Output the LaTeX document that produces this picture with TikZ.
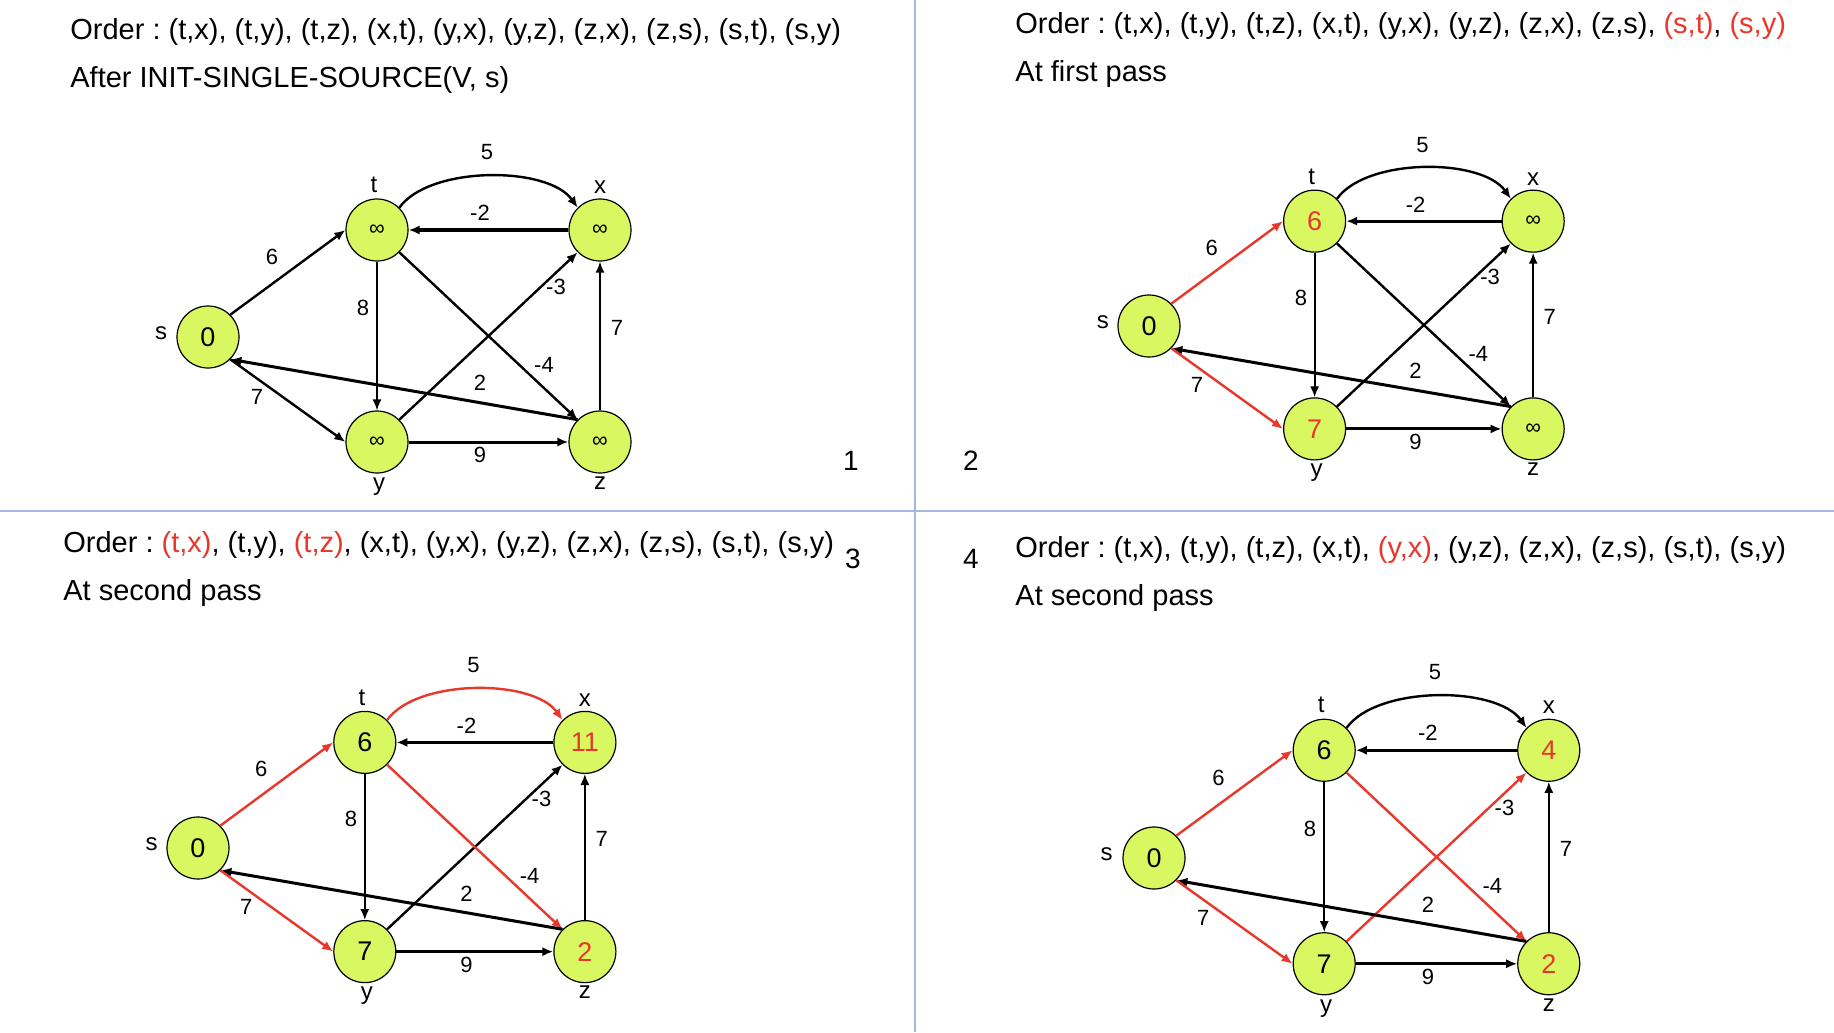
\documentclass[tikz,border=0pt]{standalone}
\usepackage{fontspec}
\setmainfont{Liberation Sans}
\usetikzlibrary{arrows.meta}
\frenchspacing
\definecolor{myred}{HTML}{E8382C}
\definecolor{nodefill}{HTML}{D8F760}
\definecolor{divider}{HTML}{A4B6E2}
\newcommand\valfont{\fontsize{13.5}{16}\selectfont}
\newcommand\inff{\fontsize{11}{12}\selectfont ∞}
\newcommand\rv[1]{\textcolor{myred}{#1}}
\newcommand\bfgraph[4]{%
  \node[vtx] (s) at (0,0) {0};
  \node[vtx] (t) at (169,-107) {#1};
  \node[vtx] (x) at (392,-107) {#2};
  \node[vtx] (y) at (169,105) {#3};
  \node[vtx] (z) at (392,105) {#4};
  \node[nm] (sname) at (-47,-4) {s};
  \node[nm] (tname) at (166,-152) {t};
  \node[nm] (xname) at (392,-150) {x};
  \node[nm] (yname) at (171,150) {y};
  \node[nm] (zname) at (392,146) {z};
  \draw[edge,eTX] (t.45) .. controls +(30,-42) and +(-30,-42) .. (x.135);
  \draw[edge,thick edge] (x.west) -- (t.east);
  \draw[edge,eST] (s.45) -- (t.west);
  \draw[edge,thin edge] (t.south) -- (y.north);
  \draw[edge,eYX] (y.45) -- (x.225);
  \draw[edge,thin edge] (z.north) -- (x.south);
  \draw[edge,eTZ] (t.-45) -- (z.135);
  \draw[edge,thick edge] (z.135) -- (s.-45);
  \draw[edge,eSY] (s.-45) -- (y.west);
  \draw[edge,thick edge] (y.east) -- (z.west);
  \node[el] (l5) at (279,-185) {5};
  \node[el] (lm2) at (272,-124) {-2};
  \node[el] (l6) at (64,-80) {6};
  \node[el] (l8) at (155,-29) {8};
  \node[el] (lm3) at (348,-50) {-3};
  \node[el] (l7r) at (409,-9) {7};
  \node[el] (lm4) at (336,28) {-4};
  \node[el] (l2) at (272,46) {2};
  \node[el] (l7l) at (49,60) {7};
  \node[el] (l9) at (272,118) {9};
}
\begin{document}
\begin{tikzpicture}[x=0.5pt,y=-0.5pt,
  vtx/.style={circle,draw=black,line width=0.6pt,fill=nodefill,minimum size=31pt,inner sep=0pt,font=\valfont},
  nm/.style={font=\fontsize{12}{14}\selectfont,inner sep=0pt},
  el/.style={font=\fontsize{11}{13}\selectfont,inner sep=0pt},
  title/.style={font=\fontsize{14.5}{17}\selectfont,inner sep=0pt,anchor=base west},
  pnum/.style={font=\fontsize{14}{16}\selectfont,inner sep=0pt,anchor=base},
  edge/.style={line width=1.2pt,-{Latex[length=5.5pt,width=4.6pt]}},
  thick edge/.style={line width=1.5pt},
  thin edge/.style={line width=1pt},
  eST/.style={}, eSY/.style={}, eTX/.style={}, eTZ/.style={}, eYX/.style={},
  redge/.style={draw=myred}
]
\useasboundingbox (0,0) rectangle (1834,1032);
\fill[white] (0,0) rectangle (1834,1032);
\draw[divider,line width=1pt] (915,0) -- (915,1032);
\draw[divider,line width=1pt] (0,511) -- (1834,511);

% Panel 1
\node[title] (p1a) at (70,40) {Order : (t,x), (t,y), (t,z), (x,t), (y,x), (y,z), (z,x), (z,s), (s,t), (s,y)};
\node[title] (p1b) at (70,88) {After INIT-SINGLE-SOURCE(V, s)};
\node[pnum] (n1) at (851,470) {1};
\begin{scope}[shift={(208,337)},name prefix=p1-]
  \bfgraph{\inff}{\inff}{\inff}{\inff}
\end{scope}

% Panel 2
\node[title] (p2a) at (1015,34) {Order : (t,x), (t,y), (t,z), (x,t), (y,x), (y,z), (z,x), (z,s), \rv{(s,t)}, \rv{(s,y)}};
\node[title] (p2b) at (1015,82) {At first pass};
\node[pnum] (n2) at (971,470) {2};
\begin{scope}[shift={(1149,326)},scale=0.98,name prefix=p2-,
  eST/.style={redge}, eSY/.style={redge}]
  \bfgraph{\rv{6}}{\inff}{\rv{7}}{\inff}
\end{scope}

% Panel 3
\node[title] (p3a) at (63,552) {Order : \rv{(t,x)}, (t,y), \rv{(t,z)}, (x,t), (y,x), (y,z), (z,x), (z,s), (s,t), (s,y)};
\node[title] (p3b) at (63,600) {At second pass};
\node[pnum] (n3) at (853,568) {3};
\begin{scope}[shift={(198,848)},scale=0.987,name prefix=p3-,
  eST/.style={redge}, eSY/.style={redge}, eTX/.style={redge}, eTZ/.style={redge}]
  \bfgraph{6}{\rv{11}}{7}{\rv{2}}
\end{scope}

% Panel 4
\node[title] (p4a) at (1015,557) {Order : (t,x), (t,y), (t,z), (x,t), \rv{(y,x)}, (y,z), (z,x), (z,s), (s,t), (s,y)};
\node[title] (p4b) at (1015,605) {At second pass};
\node[pnum] (n4) at (971,568) {4};
\begin{scope}[shift={(1154,858)},scale=1.007,name prefix=p4-,
  eST/.style={redge}, eSY/.style={redge}, eTZ/.style={redge}, eYX/.style={redge}]
  \bfgraph{6}{\rv{4}}{7}{\rv{2}}
\end{scope}
\end{tikzpicture}
\end{document}
